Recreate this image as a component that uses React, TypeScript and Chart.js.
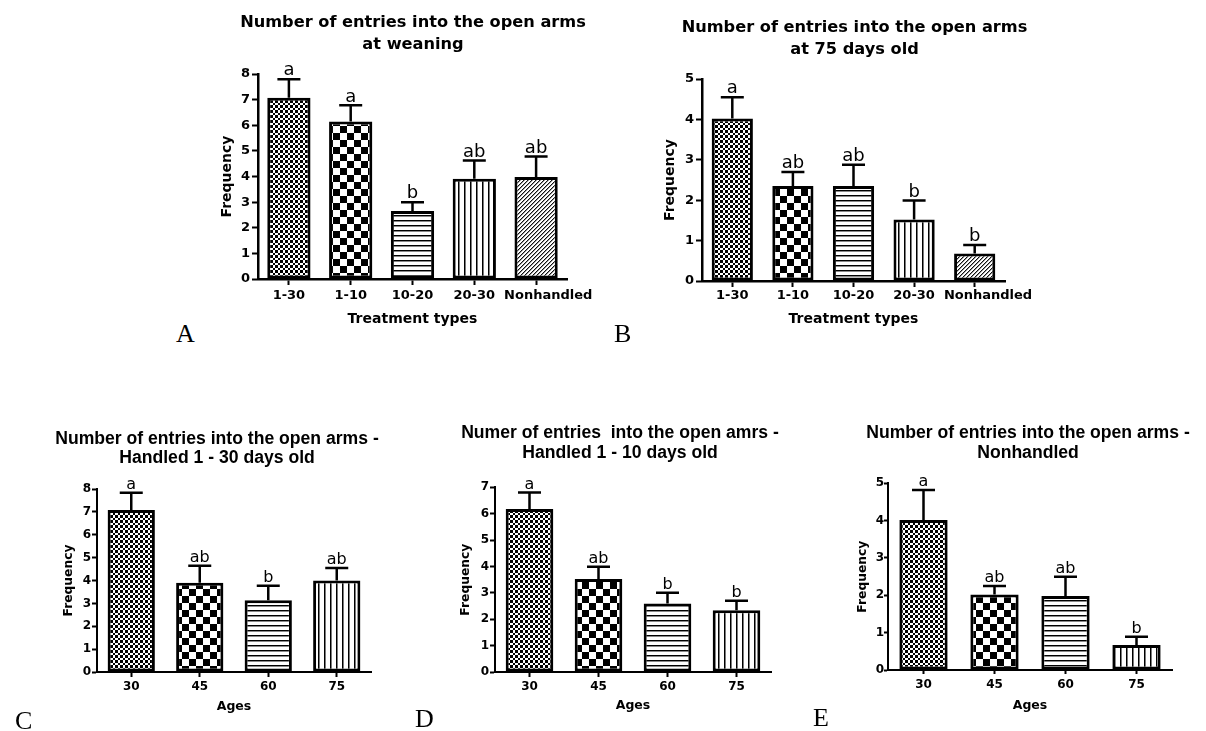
import React, { useEffect, useRef } from 'react';
import { Chart, registerables } from 'chart.js';

Chart.register(...registerables);

const SANS = "'Liberation Sans', Arial, sans-serif";
const DEJAVU = "'DejaVu Sans', sans-serif";
const SERIF = "'Liberation Serif', 'Times New Roman', serif";

// ---------------- data ----------------
const treatmentTypes = ['1-30', '1-10', '10-20', '20-30', 'Nonhandled'];
const ages = ['30', '45', '60', '75'];

const weaningMean = [7.07, 6.15, 2.65, 3.91, 3.98];
const weaningSem = [0.73, 0.63, 0.35, 0.71, 0.8];
const weaningGroups = ['a', 'a', 'b', 'ab', 'ab'];
const weaningYMax = 8;

const day75Mean = [4.02, 2.35, 2.35, 1.52, 0.68];
const day75Sem = [0.53, 0.35, 0.53, 0.47, 0.21];
const day75Groups = ['a', 'ab', 'ab', 'b', 'b'];
const day75YMax = 5;

const handled130Mean = [7.08, 3.9, 3.14, 4.0];
const handled130Sem = [0.76, 0.74, 0.63, 0.55];
const handled130Groups = ['a', 'ab', 'b', 'ab'];
const handled130YMax = 8;

const handled110Mean = [6.18, 3.52, 2.6, 2.34];
const handled110Sem = [0.62, 0.47, 0.4, 0.36];
const handled110Groups = ['a', 'ab', 'b', 'b'];
const handled110YMax = 7;

const nonhandledMean = [4.02, 2.02, 1.98, 0.67];
const nonhandledSem = [0.8, 0.23, 0.52, 0.22];
const nonhandledGroups = ['a', 'ab', 'ab', 'b'];
const nonhandledYMax = 5;

const patternOrder = ['fine', 'coarse', 'hlines', 'vlines', 'diag'];

// ---------------- panel specs ----------------
type Style = {
  titleFont: string; titleSize: number; titleLine: number; titleY: number; titleShift: number;
  padTop: number; padRight: number;
  tickFont: string; tickSize: number; tickLength: number; yTickPad: number; xTickPad: number; labelGap: number;
  axisFont: string; yTitleSize: number; xTitleSize: number; yTitlePad: number; xTitlePadBottom: number;
  yAxisWidth: number; xAxisHeight: number;
  axisWidth: number; barBorder: number; barPct: number;
  errWidth: number; capWidth: number; letterSize: number;
};

type Panel = {
  key: string;
  box: { left: number; top: number; width: number; height: number };
  title: string[];
  xTitle: string;
  yTitle: string;
  categories: string[];
  mean: number[];
  sem: number[];
  groups: string[];
  yMax: number;
  style: Style;
};

const topStyle = {
  titleFont: DEJAVU, titleSize: 16.2, titleLine: 22,
  tickFont: DEJAVU, tickSize: 13, tickLength: 6, yTickPad: 2, labelGap: 9,
  axisFont: DEJAVU, yTitleSize: 14, xTitleSize: 14, xTitlePadBottom: 6,
  axisWidth: 2.5, barBorder: 3, errWidth: 2.5, capWidth: 23, letterSize: 18,
};

const bottomStyle = {
  titleFont: SANS, titleSize: 17.6,
  tickFont: DEJAVU, tickSize: 12, tickLength: 5, yTickPad: 1, labelGap: 9,
  axisFont: DEJAVU, yTitleSize: 12.3, xTitleSize: 12.5,
  axisWidth: 2, barBorder: 3, errWidth: 2.5, capWidth: 23, letterSize: 16,
};

const panels: Panel[] = [
  {
    key: 'A',
    box: { left: 200, top: 0, width: 432, height: 334 },
    title: ['Number of entries into the open arms', 'at weaning'],
    xTitle: 'Treatment types', yTitle: 'Frequency',
    categories: treatmentTypes, mean: weaningMean, sem: weaningSem, groups: weaningGroups, yMax: weaningYMax,
    style: { ...topStyle, titleY: 22.5, titleShift: 0.5, padTop: 74, xTickPad: 2.5, yTitlePad: 18.6, yAxisWidth: 58, xAxisHeight: 55, padRight: 65, barPct: 0.7 } as Style,
  },
  {
    key: 'B',
    box: { left: 640, top: 0, width: 430, height: 334 },
    title: ['Number of entries into the open arms', 'at 75 days old'],
    xTitle: 'Treatment types', yTitle: 'Frequency',
    categories: treatmentTypes, mean: day75Mean, sem: day75Sem, groups: day75Groups, yMax: day75YMax,
    style: { ...topStyle, titleY: 28, titleShift: 1, padTop: 79, xTickPad: 0.5, yTitlePad: 22.1, yAxisWidth: 62, xAxisHeight: 53, padRight: 65, barPct: 0.68 } as Style,
  },
  {
    key: 'C',
    box: { left: 0, top: 400, width: 434, height: 319 },
    title: ['Number of entries into the open arms -', 'Handled 1 - 30 days old'],
    xTitle: 'Ages', yTitle: 'Frequency',
    categories: ages, mean: handled130Mean, sem: handled130Sem, groups: handled130Groups, yMax: handled130YMax,
    style: { ...bottomStyle, titleLine: 19, titleY: 39, titleShift: -17, padTop: 89, padRight: 63, xTickPad: 2.6, yTitlePad: 61.6, xTitlePadBottom: 4.8, yAxisWidth: 97, xAxisHeight: 47, barPct: 0.69 } as Style,
  },
  {
    key: 'D',
    box: { left: 400, top: 400, width: 440, height: 318 },
    title: ['Numer of entries  into the open amrs -', 'Handled 1 - 10 days old'],
    xTitle: 'Ages', yTitle: 'Frequency',
    categories: ages, mean: handled110Mean, sem: handled110Sem, groups: handled110Groups, yMax: handled110YMax,
    style: { ...bottomStyle, titleLine: 19.5, titleY: 33.5, titleShift: -13, padTop: 87.3, padRight: 69, xTickPad: 2.3, yTitlePad: 58.6, xTitlePadBottom: 4.5, yAxisWidth: 95, xAxisHeight: 46, barPct: 0.69 } as Style,
  },
  {
    key: 'E',
    box: { left: 850, top: 400, width: 356, height: 318 },
    title: ['Number of entries into the open arms -', 'Nonhandled'],
    xTitle: 'Ages', yTitle: 'Frequency',
    categories: ages, mean: nonhandledMean, sem: nonhandledSem, groups: nonhandledGroups, yMax: nonhandledYMax,
    style: { ...bottomStyle, tickLength: 4, yTickPad: 0, titleLine: 20, titleY: 33.5, titleShift: -2, padTop: 83.3, padRight: 34, xTickPad: 3.6, yTitlePad: 5.1, xTitlePadBottom: 4.8, yAxisWidth: 38, xAxisHeight: 48, barPct: 0.68 } as Style,
  },
];

const panelLetters = [
  { text: 'A', left: 176, top: 321 },
  { text: 'B', left: 614, top: 321 },
  { text: 'C', left: 15, top: 708 },
  { text: 'D', left: 415, top: 706 },
  { text: 'E', left: 813, top: 705 },
];

// ---------------- patterns ----------------
function makePattern(kind: string): CanvasPattern | string {
  const c = document.createElement('canvas');
  let w = 10, h = 10;
  if (kind === 'coarse') { w = 14; h = 14; }
  if (kind === 'hlines') { w = 4; h = 5; }
  if (kind === 'vlines') { w = 6; h = 4; }
  if (kind === 'diag') { w = 4; h = 4; }
  c.width = w; c.height = h;
  const ctx = c.getContext('2d');
  if (!ctx) return '#fff';
  ctx.fillStyle = '#fff';
  ctx.fillRect(0, 0, w, h);
  if (kind === 'fine') {
    const edges = [0, 3, 5, 8, 10];
    ctx.fillStyle = '#000';
    for (let i = 0; i < 4; i++) {
      for (let j = 0; j < 4; j++) {
        if ((i + j) % 2 === 0) {
          ctx.fillRect(edges[i], edges[j], edges[i + 1] - edges[i], edges[j + 1] - edges[j]);
        }
      }
    }
  } else if (kind === 'coarse') {
    ctx.fillStyle = '#000';
    ctx.fillRect(0, 0, 7, 7);
    ctx.fillRect(7, 7, 7, 7);
  } else if (kind === 'hlines') {
    ctx.fillStyle = '#000';
    ctx.fillRect(0, 0, w, 1);
    ctx.fillStyle = '#8a8a8a';
    ctx.fillRect(0, 1, w, 1);
  } else if (kind === 'vlines') {
    ctx.fillStyle = '#000';
    ctx.fillRect(0, 0, 1, h);
    ctx.fillStyle = '#7a7a7a';
    ctx.fillRect(1, 0, 1, h);
  } else if (kind === 'diag') {
    for (let x = 0; x < 4; x++) {
      ctx.fillStyle = '#111';
      ctx.fillRect(x, 3 - x, 1, 1);
      ctx.fillStyle = '#9a9a9a';
      ctx.fillRect(x, (4 - x) % 4, 1, 1);
    }
  }
  return ctx.createPattern(c, 'repeat') || '#fff';
}

// ---------------- plugins ----------------
function makeSemPlugin(sem: number[], groups: string[], st: Style) {
  return {
    id: 'semBars',
    afterDatasetsDraw(chart: any) {
      const ctx = chart.ctx as CanvasRenderingContext2D;
      const y = chart.scales.y;
      const meta = chart.getDatasetMeta(0);
      const values = chart.data.datasets[0].data as number[];
      ctx.save();
      ctx.strokeStyle = '#000';
      ctx.fillStyle = '#000';
      ctx.lineWidth = st.errWidth;
      ctx.lineCap = 'butt';
      meta.data.forEach((bar: any, i: number) => {
        const top = y.getPixelForValue(values[i]);
        const end = y.getPixelForValue(values[i] + sem[i]);
        ctx.beginPath();
        ctx.moveTo(bar.x, top);
        ctx.lineTo(bar.x, end);
        ctx.moveTo(bar.x - st.capWidth / 2, end);
        ctx.lineTo(bar.x + st.capWidth / 2, end);
        ctx.stroke();
        ctx.font = `normal ${st.letterSize}px ${DEJAVU}`;
        ctx.textAlign = 'center';
        ctx.textBaseline = 'alphabetic';
        ctx.fillText(groups[i], bar.x, end - st.errWidth / 2 - 2.5);
      });
      ctx.restore();
    },
  };
}

// category labels under the x axis; a label that would run into its neighbour is nudged right
function makeXLabelPlugin(st: Style) {
  return {
    id: 'xCategoryLabels',
    afterDraw(chart: any) {
      const ctx = chart.ctx as CanvasRenderingContext2D;
      const xs = chart.scales.x;
      const labels = chart.data.labels as string[];
      ctx.save();
      ctx.font = `bold ${st.tickSize}px ${st.tickFont}`;
      ctx.fillStyle = '#000';
      ctx.textAlign = 'left';
      ctx.textBaseline = 'middle';
      const y = chart.chartArea.bottom + st.tickLength + st.xTickPad + (st.tickSize * 1.2) / 2;
      let prevRight = -Infinity;
      labels.forEach((lab, i) => {
        const w = ctx.measureText(lab).width;
        let left = xs.getPixelForTick(i) - w / 2;
        if (left < prevRight + st.labelGap) left = prevRight + st.labelGap;
        ctx.fillText(lab, left, y);
        prevRight = left + w;
      });
      ctx.restore();
    },
  };
}

// two-line panel title, centred over the plot area (with a small per-panel shift)
function makeTitlePlugin(lines: string[], st: Style) {
  return {
    id: 'panelTitle',
    afterDraw(chart: any) {
      const ctx = chart.ctx as CanvasRenderingContext2D;
      const ca = chart.chartArea;
      ctx.save();
      ctx.font = `bold ${st.titleSize}px ${st.titleFont}`;
      ctx.fillStyle = '#000';
      ctx.textAlign = 'center';
      ctx.textBaseline = 'middle';
      const cx = (ca.left + ca.right) / 2 + st.titleShift;
      lines.forEach((t, i) => ctx.fillText(t, cx, st.titleY + i * st.titleLine));
      ctx.restore();
    },
  };
}

function buildChart(canvas: HTMLCanvasElement, p: Panel) {
  const s = p.style;
  const fills = p.categories.map((_, i) => makePattern(patternOrder[i]));
  return new Chart(canvas, {
    type: 'bar',
    data: {
      labels: p.categories,
      datasets: [
        {
          data: p.mean,
          backgroundColor: fills as any,
          borderColor: '#000',
          borderWidth: s.barBorder,
          borderSkipped: false,
          barPercentage: s.barPct,
          categoryPercentage: 1,
        },
      ],
    },
    options: {
      responsive: false,
      animation: false,
      devicePixelRatio: 1,
      events: [],
      layout: { padding: { left: 0, right: s.padRight, top: s.padTop, bottom: 0 } },
      plugins: {
        legend: { display: false },
        tooltip: { enabled: false },
        title: { display: false },
      },
      scales: {
        x: {
          type: 'category',
          offset: true,
          afterFit: (scale: any) => { scale.height = s.xAxisHeight; },
          border: { display: true, color: '#000', width: s.axisWidth },
          grid: {
            display: true, offset: false, drawOnChartArea: false, drawTicks: true,
            tickLength: s.tickLength, tickWidth: 2, tickColor: '#000', color: '#000',
          },
          ticks: {
            display: false, autoSkip: false, maxRotation: 0, minRotation: 0,
            font: { family: s.tickFont, size: s.tickSize, weight: 'bold' },
          },
          title: {
            display: true, text: p.xTitle, color: '#000',
            font: { family: s.axisFont, size: s.xTitleSize, weight: 'bold' },
            padding: { top: 0, bottom: s.xTitlePadBottom },
          },
        },
        y: {
          min: 0,
          max: p.yMax,
          afterFit: (scale: any) => { scale.width = s.yAxisWidth; },
          border: { display: true, color: '#000', width: s.axisWidth },
          grid: {
            display: true, drawOnChartArea: false, drawTicks: true,
            tickLength: s.tickLength, tickWidth: 2, tickColor: '#000', color: '#000',
          },
          ticks: {
            stepSize: 1, color: '#000', padding: s.yTickPad,
            font: { family: s.tickFont, size: s.tickSize, weight: 'bold' },
          },
          title: {
            display: true, text: p.yTitle, color: '#000',
            font: { family: s.axisFont, size: s.yTitleSize, weight: 'bold' },
            padding: { top: s.yTitlePad, bottom: 0 },
          },
        },
      },
    } as any,
    plugins: [makeSemPlugin(p.sem, p.groups, s), makeXLabelPlugin(s), makeTitlePlugin(p.title, s)],
  });
}

function PanelChart({ panel }: { panel: Panel }) {
  const ref = useRef<HTMLCanvasElement | null>(null);
  useEffect(() => {
    if (!ref.current) return;
    const chart = buildChart(ref.current, panel);
    return () => chart.destroy();
  }, [panel]);
  const b = panel.box;
  return (
    <canvas
      ref={ref}
      width={b.width}
      height={b.height}
      style={{ position: 'absolute', left: b.left, top: b.top, width: b.width, height: b.height }}
    />
  );
}

export default function App() {
  return (
    <div
      style={{
        position: 'fixed', left: 0, top: 0, width: 1206, height: 731,
        background: '#fff', overflow: 'hidden',
      }}
    >
      {panels.map((p) => (
        <PanelChart key={p.key} panel={p} />
      ))}
      {panelLetters.map((l) => (
        <span
          key={l.text}
          style={{
            position: 'absolute', left: l.left, top: l.top, fontFamily: SERIF,
            fontSize: 26, lineHeight: '26px', color: '#000',
          }}
        >
          {l.text}
        </span>
      ))}
    </div>
  );
}
